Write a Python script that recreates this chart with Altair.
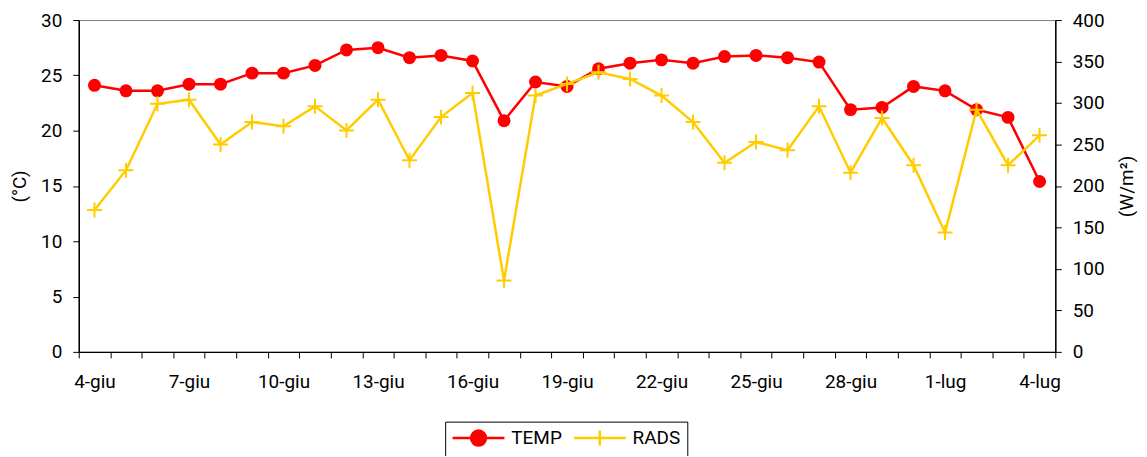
import json
import altair as alt
import pandas as pd

dates = ["4-giu", "5-giu", "6-giu", "7-giu", "8-giu", "9-giu", "10-giu", "11-giu",
         "12-giu", "13-giu", "14-giu", "15-giu", "16-giu", "17-giu", "18-giu", "19-giu",
         "20-giu", "21-giu", "22-giu", "23-giu", "24-giu", "25-giu", "26-giu", "27-giu",
         "28-giu", "29-giu", "30-giu", "1-lug", "2-lug", "3-lug", "4-lug"]
temp = [24.1, 23.6, 23.6, 24.2, 24.2, 25.2, 25.2, 25.9, 27.3, 27.5, 26.6, 26.8,
        26.3, 20.9, 24.4, 24.0, 25.6, 26.1, 26.4, 26.1, 26.7, 26.8, 26.6, 26.2,
        21.9, 22.1, 24.0, 23.6, 21.9, 21.2, 15.4]
rads = [171, 219, 299, 304, 250, 277, 272, 296, 267, 304, 231, 283,
        312, 86, 309, 323, 337, 329, 309, 277, 228, 253, 243, 296,
        216, 282, 225, 144, 292, 225, 261]
series_names = ["TEMP", "RADS"]
series_colors = ["#FF0000", "#FFCC00"]
temp_ticks = [0, 5, 10, 15, 20, 25, 30]
rads_ticks = [0, 50, 100, 150, 200, 250, 300, 350, 400]
shown_labels = dates[::3]

FONT = "Roboto"
FS = 19
RED, GOLD = series_colors

df = pd.DataFrame({"date": dates, "TEMP": temp, "RADS": rads})
legend_df = pd.DataFrame({"date": [dates[0]] * 2, "series": series_names, "v": [-5, -5]})

x_enc = alt.X(
    "date:O", sort=dates,
    scale=alt.Scale(type="band", paddingInner=0, paddingOuter=0),
    axis=alt.Axis(
        title=None, tickBand="extent", labelAngle=0, labelOverlap=False,
        labelExpr="indexof(" + json.dumps(shown_labels) + ", datum.value) >= 0 ? datum.label : ''",
        labelPadding=15, tickSize=6,
    ),
)

temp_base = alt.Chart(df).encode(
    x=x_enc,
    y=alt.Y("TEMP:Q", scale=alt.Scale(domain=[0, 30], nice=False),
            axis=alt.Axis(orient="left", values=temp_ticks, title="(°C)",
                          titleAngle=-90, titleBaseline="bottom", titleX=-49.5, titleY=166.5,
                          labelPadding=11, tickSize=6)),
)
temp_line = temp_base.mark_line(color=RED, strokeWidth=2.5)
temp_pts = temp_base.mark_point(shape="circle", filled=True, size=169, color=RED, opacity=1)

plus_path = "M-1,0L1,0M0,-1L0,1"
rads_base = alt.Chart(df).encode(
    x=x_enc,
    y=alt.Y("RADS:Q", scale=alt.Scale(domain=[0, 400], nice=False),
            axis=alt.Axis(orient="right", values=rads_ticks, title="(W/m²)",
                          titleAngle=-90, titleBaseline="bottom", titleX=81, titleY=166.5,
                          labelPadding=11, tickSize=6)),
)
rads_line = rads_base.mark_line(color=GOLD, strokeWidth=2.5)
rads_pts = rads_base.mark_point(shape=plus_path, filled=False, size=225, color=GOLD,
                                strokeWidth=2, opacity=1)

L = 3.47
temp_sym = f"M-{L},0L{L},0M-1,0A1,1 0 1,0 1,0A1,1 0 1,0 -1,0Z"
rads_sym = f"M-{L},0L{L},0M0,-1L0,1"

def mk_legend():
    return alt.Legend(
        title=None, orient="none", legendX=367.7, legendY=403, direction="horizontal",
        strokeColor="black", fillColor="white", padding=7, labelFontSize=FS, labelFont=FONT,
        labelColor="black", symbolSize=225, symbolStrokeWidth=2.5, symbolOffset=17,
        labelOffset=23.4, columnPadding=5.7, symbolOpacity=1,
    )

legend_layer = alt.Chart(legend_df).mark_point(clip=True, strokeWidth=2.5, opacity=1).encode(
    x=x_enc,
    y=alt.Y("v:Q", scale=alt.Scale(domain=[0, 1]), axis=None),
    fill=alt.Fill("series:N", scale=alt.Scale(domain=series_names, range=series_colors), legend=mk_legend()),
    stroke=alt.Stroke("series:N", scale=alt.Scale(domain=series_names, range=series_colors), legend=mk_legend()),
    shape=alt.Shape("series:N", scale=alt.Scale(domain=series_names, range=[temp_sym, rads_sym]), legend=mk_legend()),
)

chart = alt.layer(
    alt.layer(temp_line, temp_pts),
    alt.layer(rads_line, rads_pts),
    legend_layer,
).resolve_scale(y="independent").properties(
    width=980, height=333,
    autosize=alt.AutoSizeParams(type="none"),
    padding={"left": 71, "top": 11.3, "right": 84, "bottom": 104},
    background="white",
).configure_view(
    stroke="#7f7f7f", strokeWidth=1,
).configure_axis(
    grid=False, domainColor="black", domainWidth=1.5, tickColor="black", tickWidth=1,
    labelFont=FONT, labelFontSize=FS, labelColor="black",
    titleFont=FONT, titleFontSize=FS, titleColor="black", titleFontWeight="normal",
)

chart.save("out.html", embed_options={"renderer": "svg", "actions": False})
